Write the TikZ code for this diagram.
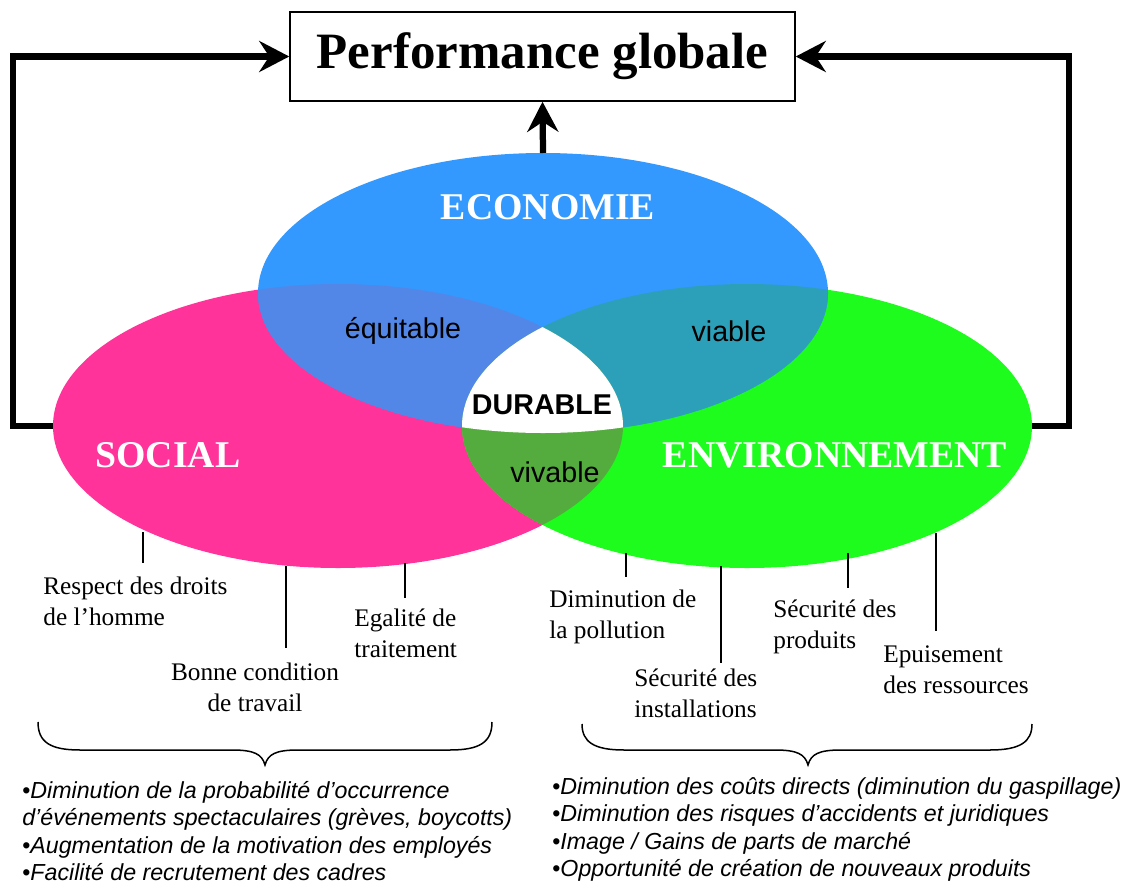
\documentclass[tikz,border=0pt]{standalone}
\usepackage{fontspec}
\setmainfont{Liberation Serif}
\newfontfamily\arialfont{Liberation Sans}
\usetikzlibrary{arrows.meta}
\definecolor{ecoblue}{RGB}{51,153,255}
\definecolor{socpink}{RGB}{255,51,153}
\definecolor{envgreen}{RGB}{30,252,30}
\definecolor{equiblue}{RGB}{82,135,232}
\definecolor{viateal}{RGB}{45,160,185}
\definecolor{vivgreen}{RGB}{85,172,62}
\def\ecoshape{(543,293) ellipse [x radius=57mm, y radius=28mm]}
\def\socshape{(338,426) ellipse [x radius=57mm, y radius=28.4mm]}
\def\envshape{(747,426) ellipse [x radius=57mm, y radius=28.4mm]}

\begin{document}
\begin{tikzpicture}[x=0.2mm,y=-0.2mm,
	fb/.style={line width=1.25mm,-{Stealth[length=6mm,width=6.2mm,inset=2mm]}},
	tick/.style={line width=0.3mm},
	pole/.style={text=white,font=\fontsize{21.5}{24}\selectfont\bfseries},
	zone/.style={font=\arialfont\fontsize{16.3}{19}\selectfont},
	lbl/.style={anchor=north west,inner sep=0pt,align=left,font=\fontsize{14.4}{17.6}\selectfont},
	gain/.style={anchor=north west,inner sep=0pt,align=left,font=\arialfont\itshape\fontsize{13.2}{15.6}\selectfont}]
			%%%%% START %%%%%
			
			\useasboundingbox (0,0) rectangle (1127,883);
			
			\fill[socpink] \socshape;
			\fill[envgreen] \envshape;
			\fill[ecoblue] \ecoshape;
			
			\begin{scope}
				\clip \socshape;
				\fill[equiblue] \ecoshape;
			\end{scope}
			\begin{scope}
				\clip \envshape;
				\fill[viateal] \ecoshape;
			\end{scope}
			\begin{scope}
				\clip \socshape;
				\fill[vivgreen] \envshape;
			\end{scope}
			\begin{scope}
				\clip \socshape;
				\clip \envshape;
				\fill[white] \ecoshape;
			\end{scope}
			
			\node[draw, line width=0.3mm, minimum width=101mm, minimum height=17.8mm, inner sep=0pt,
				font=\fontsize{29}{32}\selectfont\bfseries] (perf) at (542.5,56.5) {Performance globale};
			
			\coordinate (ecotop) at (543,153);
			\coordinate (socwest) at (53,426);
			\coordinate (envest) at (1032,426);
			\draw[fb] (ecotop) -- (perf.south);
			\draw[fb] (socwest) -- (13,426) |- (perf.west);
			\draw[fb] (envest) -- (1069,426) |- (perf.east);
			
			\node[pole] (eco) at (548,207) {ECONOMIE};
			\node[pole] (soc) at (168,455) {SOCIAL};
			\node[pole] (env) at (835,455) {ENVIRONNEMENT};
			
			\node[zone] (equi) at (403,331) {équitable};
			\node[zone] (via) at (729,331) {viable};
			\node[zone, font=\arialfont\fontsize{16.3}{19}\selectfont\bfseries] (dur) at (542,405) {DURABLE};
			\node[zone] (viv) at (555,472) {vivable};
			
			% social
			\draw[tick] (143,532) -- (143,563);
			\draw[tick] (286,566) -- (286,648);
			\draw[tick] (405,563) -- (405,598);
			\node[lbl] (droits) at (43,577) {Respect des droits\\de l’homme};
			\node[lbl, anchor=north, align=center] (travail) at (255,663) {Bonne condition\\de travail};
			\node[lbl] (egal) at (354,609) {Egalité de\\traitement};
			
			% environnement
			\draw[tick] (626,553) -- (626,577);
			\draw[tick] (721,566) -- (721,663);
			\draw[tick] (848,553) -- (848,588);
			\draw[tick] (936,533) -- (936,631);
			\node[lbl] (pollu) at (549,590) {Diminution de\\la pollution};
			\node[lbl] (instal) at (634,669) {Sécurité des\\installations};
			\node[lbl] (produ) at (773,600) {Sécurité des\\produits};
			\node[lbl] (ressou) at (883,645) {Epuisement\\des ressources};
			
			\draw[line width=0.3mm] (38,722) .. controls (38,742) and (50,750) .. (80,750) -- (232,750)
				.. controls (254,750) and (262,754) .. (265,765) .. controls (268,754) and (276,750) .. (298,750)
				-- (450,750) .. controls (480,750) and (492,742) .. (492,722);
			\draw[line width=0.3mm] (582,724) .. controls (582,742) and (594,750) .. (624,750) -- (775,750)
				.. controls (797,750) and (805,754) .. (808,765) .. controls (811,754) and (819,750) .. (841,750)
				-- (990,750) .. controls (1020,750) and (1032,742) .. (1032,724);
			
			\node[gain] (gsoc) at (22,781) {{\upshape •}Diminution de la probabilité d’occurrence\\d’événements spectaculaires (grèves, boycotts)\\{\upshape •}Augmentation de la motivation des employés\\{\upshape •}Facilité de recrutement des cadres};
			\node[gain] (genv) at (552,777) {{\upshape •}Diminution des coûts directs (diminution du gaspillage)\\{\upshape •}Diminution des risques d’accidents et juridiques\\{\upshape •}Image / Gains de parts de marché\\{\upshape •}Opportunité de création de nouveaux produits};
			
			%%%%% END %%%%%
\end{tikzpicture}
\end{document}
